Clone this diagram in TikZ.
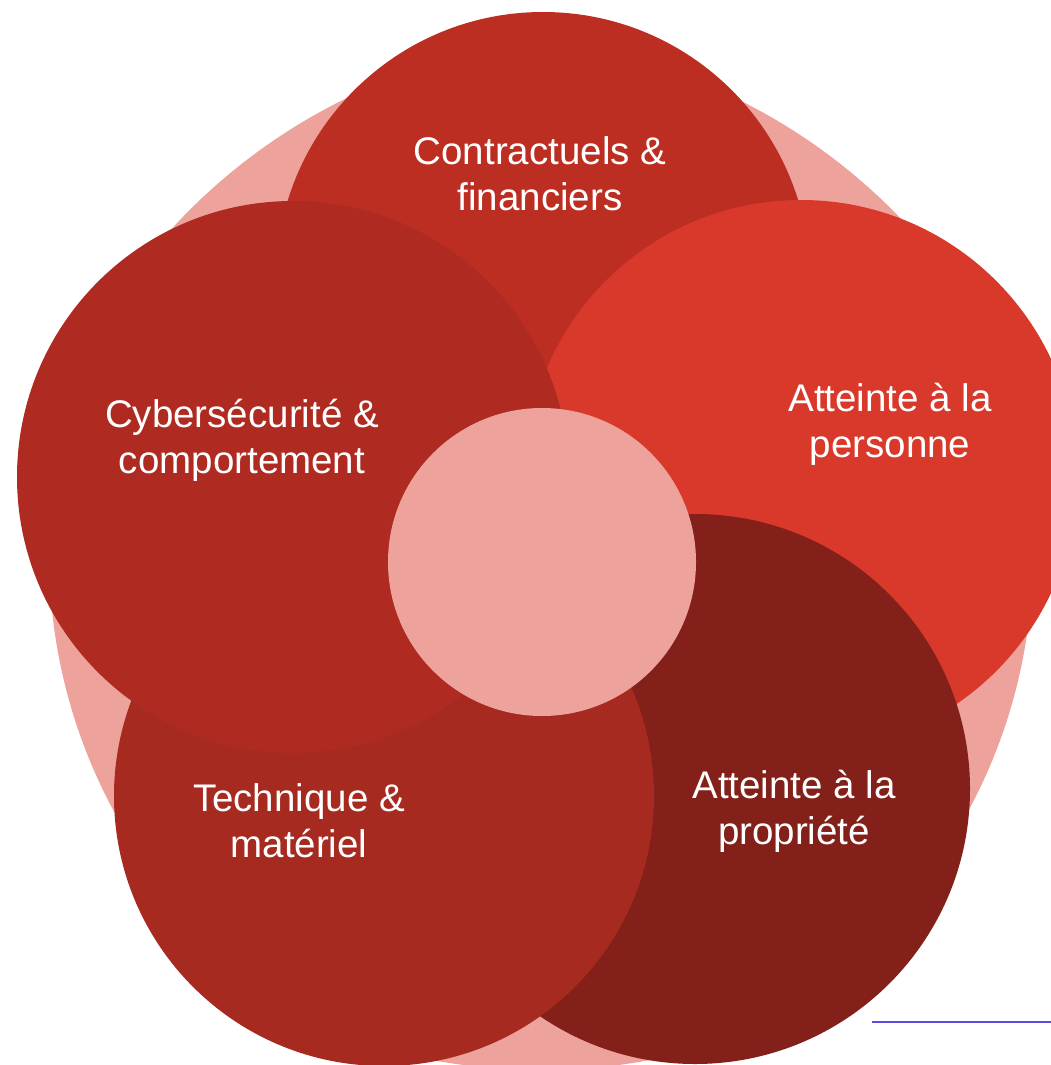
\documentclass[tikz,border=0pt]{standalone}
\usepackage{fontspec}
\setmainfont{Liberation Sans}
\definecolor{palebg}{HTML}{EDA39B}
\definecolor{ctop}{HTML}{BD2E22}
\definecolor{cleft}{HTML}{AF2A20}
\definecolor{cright}{HTML}{D9392B}
\definecolor{cbl}{HTML}{A62A1F}
\definecolor{cbr}{HTML}{832019}
\definecolor{cmid}{HTML}{EDA39B}
\definecolor{blueline}{HTML}{5A4BE3}
\begin{document}
\begin{tikzpicture}[x=1pt,y=-1pt,
  disc/.style={circle, inner sep=0pt, outer sep=0pt, draw=none},
  lbl/.style={anchor=base, inner sep=0pt, text=white, font=\fontsize{38.5}{46.5}\selectfont}]
\useasboundingbox (0,0) rectangle (1051,1065);
% pale background: curved pentagon = intersection of five large disks
\begin{scope}
  \clip (599.7,620.2) circle (580pt);
  \clip (482.3,620.2) circle (580pt);
  \clip (589.2,554.8) circle (540pt);
  \clip (492.8,554.8) circle (540pt);
  \fill[palebg] (541,475) circle (595pt);
\end{scope}
% circles (back to front)
\node[disc, fill=ctop,   minimum size=534pt] (top)   at (543,279) {};
\node[disc, fill=cright, minimum size=552pt] (right) at (801,476) {};
\node[disc, fill=cbr,    minimum size=550pt] (br)    at (695,789) {};
\node[disc, fill=cbl,    minimum size=540pt] (bl)    at (384,796) {};
\node[disc, fill=cleft,  minimum size=552pt] (left)  at (293,477) {};
\node[disc, fill=cmid,   minimum size=308pt] (mid)   at (542,562) {};
% labels
\node[lbl] (tcontr) at (540,164) {\begin{tabular}[t]{@{}c@{}}Contractuels \&\\financiers\end{tabular}};
\node[lbl] (tcyber) at (242,427) {\begin{tabular}[t]{@{}c@{}}Cybersécurité \&\\comportement\end{tabular}};
\node[lbl] (tpers)  at (890,411) {\begin{tabular}[t]{@{}c@{}}Atteinte à la\\personne\end{tabular}};
\node[lbl] (ttech)  at (299,811) {\begin{tabular}[t]{@{}c@{}}Technique \&\\matériel\end{tabular}};
\node[lbl] (tprop)  at (794,798) {\begin{tabular}[t]{@{}c@{}}Atteinte à la\\propriété\end{tabular}};
% blue line
\coordinate (bla) at (872,1022);
\coordinate (blb) at (1051,1022);
\draw[blueline, line width=2.2pt] (bla) -- (blb);
\end{tikzpicture}
\end{document}
